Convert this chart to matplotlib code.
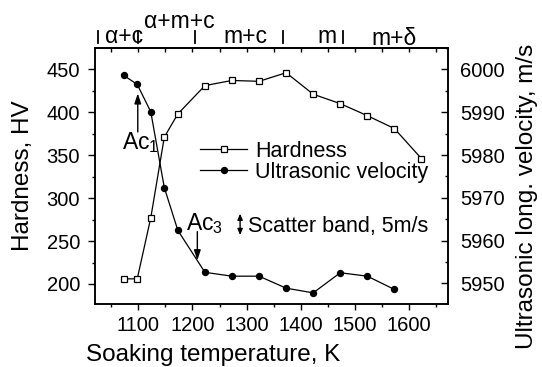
import matplotlib.pyplot as plt
from matplotlib.ticker import MultipleLocator

plt.rcParams['font.family'] = ['Liberation Sans', 'DejaVu Sans']
plt.rcParams['mathtext.fontset'] = 'custom'
plt.rcParams['mathtext.rm'] = 'Liberation Sans'
plt.rcParams['mathtext.it'] = 'Liberation Sans'

# soaking temperatures, K
temp_hv = [1073, 1098, 1123, 1148, 1173, 1223, 1273, 1323, 1373, 1423, 1473, 1523, 1573, 1623]
temp_v = [1073, 1098, 1123, 1148, 1173, 1223, 1273, 1323, 1373, 1423, 1473, 1523, 1573]

# hardness, HV
hardness = [206, 206, 277, 371, 398, 431, 437, 436, 446, 421, 410, 396, 381, 346]
# ultrasonic longitudinal velocity, m/s
velocity = [5998.6, 5996.5, 5990.1, 5972.4, 5962.4, 5952.6, 5951.7, 5951.7,
            5948.9, 5947.8, 5952.5, 5951.7, 5948.6]

# phase fields along the top
phase_names = ['α+c', 'α+m+c', 'm+c', 'm', 'm+δ']
phase_pos = [1074, 1176, 1297, 1449, 1573]
phase_y = [1.018, 1.077, 1.018, 1.018, 1.010]
phase_bounds = [1025, 1100, 1204, 1367, 1478]

ac1 = 1099
ac3 = 1209
scatter = 5

fig = plt.figure(figsize=(5.42, 3.67), dpi=100)
ax = fig.add_axes([95/542, 1-304/367, (448-95)/542, (304-48)/367])

h1, = ax.plot(temp_hv, hardness, '-s', color='black', mfc='white', ms=3.8, mew=0.9, lw=0.9,
              label='Hardness')
ax.set_xlim(1020, 1672)
ax.set_ylim(176.7, 474.8)

ax2 = ax.twinx()
h2, = ax2.plot(temp_v, velocity, '-o', color='black', ms=4.3, lw=0.9,
               label='Ultrasonic velocity')
ax2.set_ylim(5945.2, 6005)

ax.xaxis.set_major_locator(MultipleLocator(100))
ax.xaxis.set_minor_locator(MultipleLocator(50))
ax.yaxis.set_major_locator(MultipleLocator(50))
ax.yaxis.set_minor_locator(MultipleLocator(25))
ax2.yaxis.set_major_locator(MultipleLocator(10))
ax2.yaxis.set_minor_locator(MultipleLocator(5))

ax.tick_params(axis='x', which='both', direction='out', top=False, labelsize=14.5, pad=4)
ax.tick_params(axis='x', which='major', length=4.3, width=1)
ax.tick_params(axis='x', which='minor', length=2.4, width=1)
ax.tick_params(axis='y', which='both', direction='out', right=False, labelsize=14.5, pad=6)
ax.tick_params(axis='y', which='major', length=4.8, width=1)
ax.tick_params(axis='y', which='minor', length=2.5, width=1)
ax2.tick_params(axis='y', which='both', direction='in', labelsize=14.5, pad=8.6)
ax2.tick_params(axis='y', which='major', length=4.8, width=1)
ax2.tick_params(axis='y', which='minor', length=2.4, width=1)

top = ax.secondary_xaxis('top')
top.xaxis.set_major_locator(MultipleLocator(100))
top.xaxis.set_minor_locator(MultipleLocator(50))
top.tick_params(which='both', direction='in', labeltop=False, length=3, width=1)

for a in (ax, ax2):
    for s in a.spines.values():
        s.set_linewidth(1.1)
top.spines['top'].set_linewidth(1.1)

ax.set_xlabel('Soaking temperature, K', fontsize=17.5, va='center')
ax.xaxis.set_label_coords(0.335, -0.198)
ax.set_ylabel('Hardness, HV', fontsize=17.5, va='center')
ax.yaxis.set_label_coords(-0.204, 0.5)
ax2.set_ylabel('Ultrasonic long. velocity, m/s', fontsize=17.5, va='center')
ax2.yaxis.set_label_coords(1.2235, 0.42)

fig.legend(handles=[h1, h2], loc='upper left', bbox_to_anchor=(200/542, 1-141/367),
           frameon=False, fontsize=15.5, borderpad=0, borderaxespad=0, numpoints=1,
           handlelength=2.19, handletextpad=0.37, labelspacing=0.0)

# transformation points
arrow = dict(arrowstyle='-|>,head_length=0.6,head_width=0.2', lw=1, color='black',
             shrinkA=0, shrinkB=0, mutation_scale=10)
ax2.annotate('', xy=(ac1, 5994.4), xytext=(ac1, 5985.4), arrowprops=arrow)
ax2.text(1069, 5981.5, r'Ac$_1$', fontsize=16.5, va='baseline', ha='left')
ax2.annotate('', xy=(ac3, 5955.4), xytext=(ac3, 5962.1), arrowprops=arrow)
ax2.text(1188, 5962.5, r'Ac$_3$', fontsize=16.5, va='baseline', ha='left')

# scatter band marker
band = dict(arrowstyle='<|-|>,head_length=0.35,head_width=0.15', lw=1, color='black',
            shrinkA=0, shrinkB=0, mutation_scale=10)
ax2.annotate('', xy=(1288, 5963.8 + scatter/2), xytext=(1288, 5963.8 - scatter/2),
             arrowprops=band)
ax2.text(1303, 5962.1, 'Scatter band, %dm/s' % scatter, fontsize=15.5, va='baseline', ha='left')

xt = ax.get_xaxis_transform()
for name, x, y in zip(phase_names, phase_pos, phase_y):
    ax.text(x, y, name, transform=xt, fontsize=16.5, ha='center', va='baseline')
for b in phase_bounds:
    ax.plot([b, b], [1.018, 1.068], transform=xt, clip_on=False, color='black', lw=1.3)

fig.savefig('out.png', dpi=100)
